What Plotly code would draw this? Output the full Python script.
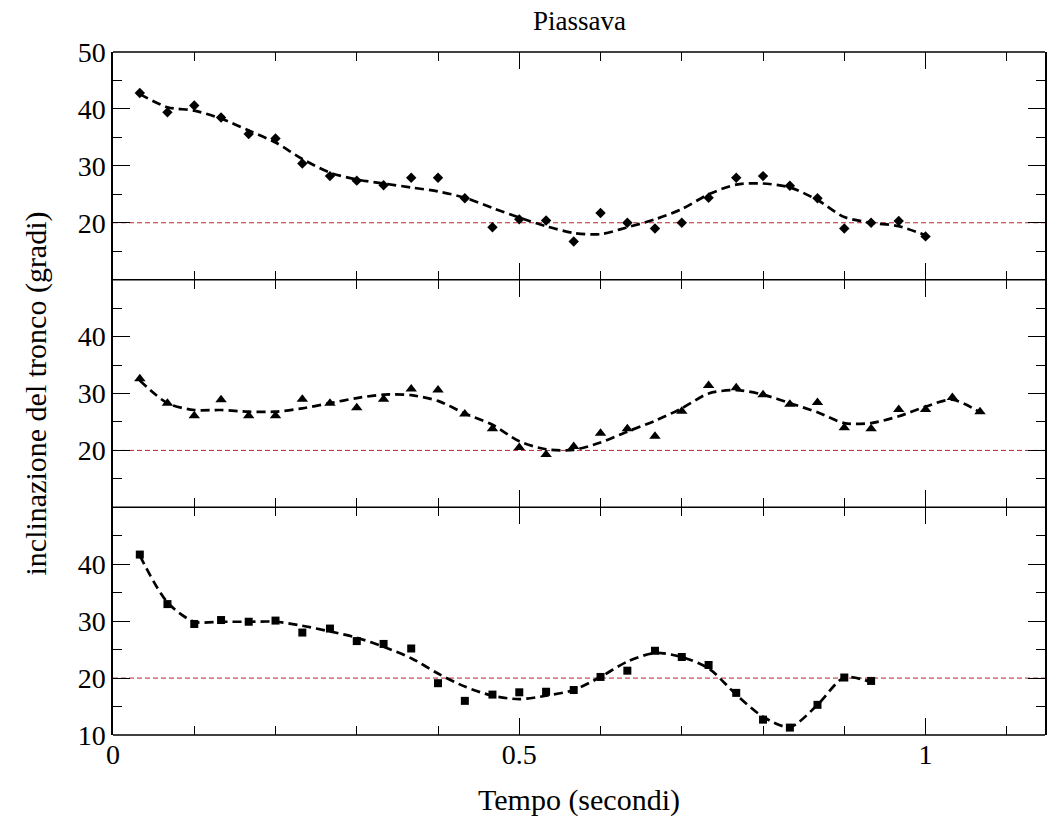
import plotly.graph_objects as go

# ---------------- data ----------------
t_top = [0.033, 0.067, 0.100, 0.133, 0.167, 0.200, 0.233, 0.267, 0.300, 0.333,
         0.367, 0.400, 0.433, 0.467, 0.500, 0.533, 0.567, 0.600, 0.633, 0.667,
         0.700, 0.733, 0.767, 0.800, 0.833, 0.867, 0.900, 0.933, 0.967, 1.000]
v_top = [42.8, 39.4, 40.6, 38.5, 35.6, 34.8, 30.4, 28.2, 27.4, 26.6,
         27.9, 27.9, 24.3, 19.2, 20.6, 20.4, 16.7, 21.7, 20.0, 19.0,
         20.0, 24.4, 27.9, 28.2, 26.5, 24.3, 19.0, 20.0, 20.3, 17.6]
f_top = [42.6, 40.3, 39.7, 38.3, 36.2, 34.1, 31.2, 28.8, 27.6, 26.9,
         26.2, 25.5, 24.4, 22.6, 20.9, 19.4, 18.2, 18.0, 19.2, 20.6,
         22.4, 25.0, 26.7, 26.9, 26.2, 24.0, 21.0, 20.0, 19.4, 17.8]

t_mid = [0.033, 0.067, 0.100, 0.133, 0.167, 0.200, 0.233, 0.267, 0.300, 0.333,
         0.367, 0.400, 0.433, 0.467, 0.500, 0.533, 0.567, 0.600, 0.633, 0.667,
         0.700, 0.733, 0.767, 0.800, 0.833, 0.867, 0.900, 0.933, 0.967, 1.000,
         1.033, 1.067]
v_mid = [32.6, 28.3, 26.1, 28.9, 26.1, 26.1, 29.0, 28.3, 27.5, 29.0,
         30.8, 30.6, 26.4, 23.8, 20.5, 19.3, 20.7, 23.0, 23.8, 22.5,
         26.9, 31.4, 31.0, 29.8, 28.1, 28.4, 24.0, 23.8, 27.2, 27.2,
         29.3, 26.8]
f_mid = [32.3, 28.3, 27.1, 27.1, 26.8, 26.8, 27.4, 28.3, 29.2, 29.8,
         29.7, 28.7, 26.5, 24.5, 21.6, 20.2, 20.1, 21.4, 23.3, 25.2,
         27.4, 30.0, 30.6, 29.8, 28.3, 26.7, 24.8, 24.8, 26.0, 27.7,
         28.9, 26.7]

t_bot = [0.033, 0.067, 0.100, 0.133, 0.167, 0.200, 0.233, 0.267, 0.300, 0.333,
         0.367, 0.400, 0.433, 0.467, 0.500, 0.533, 0.567, 0.600, 0.633, 0.667,
         0.700, 0.733, 0.767, 0.800, 0.833, 0.867, 0.900, 0.933]
v_bot = [41.7, 33.0, 29.5, 30.2, 29.9, 30.1, 28.0, 28.7, 26.5, 26.0,
         25.2, 19.1, 16.0, 17.1, 17.5, 17.6, 17.9, 20.2, 21.3, 24.8,
         23.7, 22.3, 17.4, 12.7, 11.3, 15.3, 20.1, 19.5]
f_bot = [41.5, 33.3, 29.9, 29.9, 29.9, 29.9, 29.2, 28.2, 27.1, 25.5,
         23.5, 20.8, 18.5, 16.9, 16.3, 16.9, 17.9, 20.2, 22.9, 24.4,
         23.7, 21.7, 17.1, 13.2, 11.4, 15.3, 20.1, 19.3]

threshold = 20
x_range = [0, 1.147]
title_text = "Piassava"
x_title = "Tempo (secondi)"
y_title = "inclinazione del tronco (gradi)"

panels = [
    # (times, values, fit, marker symbol, marker size, y tick labels)
    (t_top, v_top, f_top, "diamond", 8, [20, 30, 40, 50]),
    (t_mid, v_mid, f_mid, "triangle-up", 10, [20, 30, 40]),
    (t_bot, v_bot, f_bot, "square", 8, [10, 20, 30, 40]),
]

FONT = "Liberation Serif"
TICKFONT = dict(family=FONT, size=28, color="black")

fig = go.Figure()

domains = [[2/3, 1.0], [1/3, 2/3], [0.0, 1/3]]
# axis names: bottom panel uses x/y, middle x2/y2, top x3/y3
axis_ids = ["3", "2", ""]

for (t, v, f, sym, msz, ytv), dom, aid in zip(panels, domains, axis_ids):
    xa = "x" + aid
    ya = "y" + aid
    fig.add_trace(go.Scatter(x=x_range, y=[threshold, threshold], mode="lines",
                             line=dict(color="#b3262e", width=1, dash="5px,3px"),
                             xaxis=xa, yaxis=ya, showlegend=False, hoverinfo="skip"))
    fig.add_trace(go.Scatter(x=t, y=f, mode="lines",
                             line=dict(color="black", width=2.7, dash="9px,5px",
                                       shape="spline", smoothing=0.8),
                             xaxis=xa, yaxis=ya, showlegend=False))
    fig.add_trace(go.Scatter(x=t, y=v, mode="markers",
                             marker=dict(symbol=sym, size=msz, color="black"),
                             xaxis=xa, yaxis=ya, showlegend=False))

    xkey = "xaxis" + aid
    ykey = "yaxis" + aid
    is_bottom = (aid == "")
    fig.layout[xkey] = dict(
        range=x_range, anchor=ya, domain=[0, 1],
        showline=False, mirror="ticks",
        ticks="inside", ticklen=17, tickwidth=1.3, tickcolor="black",
        tickvals=[0, 0.5, 1], ticktext=["0", "0.5", "1"],
        showticklabels=is_bottom, showgrid=False, zeroline=False,
        minor=dict(tickvals=[0.1, 0.2, 0.3, 0.4, 0.6, 0.7, 0.8, 0.9, 1.1],
                   ticks="inside", ticklen=9, tickwidth=1.3, tickcolor="black"),
        tickfont=TICKFONT,
    )
    if not is_bottom:
        fig.layout[xkey]["matches"] = "x"
    fig.layout[ykey] = dict(
        range=[10, 50], anchor=xa, domain=dom,
        showline=True, linecolor="black", linewidth=1.5, mirror="ticks",
        ticks="inside", ticklen=17, tickwidth=1.3, tickcolor="black",
        tickvals=ytv, showgrid=False, zeroline=False,
        minor=dict(tickvals=[15, 25, 35, 45], ticks="inside", ticklen=9,
                   tickwidth=1.3, tickcolor="black"),
        tickfont=TICKFONT,
    )

# horizontal frame lines (outer top/bottom and panel separators)
frame_shapes = [
    dict(type="line", xref="paper", yref="paper", x0=0, x1=1, y0=yy, y1=yy,
         line=dict(color="black", width=1.5), layer="above")
    for yy in [0, 1/3, 2/3, 1]
]

fig.update_layout(
    width=1047, height=839,
    margin=dict(l=113, r=0, t=52, b=104),
    paper_bgcolor="white", plot_bgcolor="white",
    font=dict(family=FONT, color="black"),
    shapes=frame_shapes,
    annotations=[
        dict(text=title_text, x=0.5, y=1, xref="paper", yref="paper",
             yanchor="bottom", yshift=14, showarrow=False,
             font=dict(family=FONT, size=27, color="black")),
        dict(text=x_title, x=0.5, y=0, xref="paper", yref="paper",
             yanchor="middle", yshift=-65, showarrow=False,
             font=dict(family=FONT, size=30, color="black")),
        dict(text=y_title, x=0, y=0.5, xref="paper", yref="paper",
             xanchor="center", xshift=-78, textangle=-90, showarrow=False,
             font=dict(family=FONT, size=30, color="black")),
    ],
)

fig.write_html("out.html")
